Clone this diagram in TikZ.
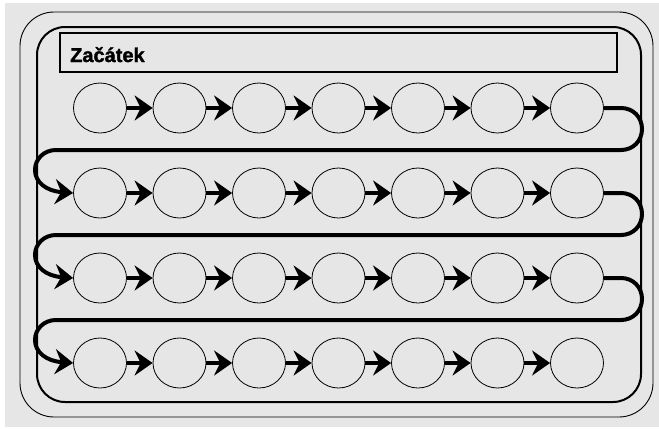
\documentclass[tikz,border=0pt]{standalone}
\usepackage{fontspec}
\setmainfont{Liberation Sans}
\newfontfamily\titlefont[FakeBold=1.6]{Liberation Sans Bold}
\usetikzlibrary{arrows.meta,shapes.geometric}
\definecolor{bg}{HTML}{E6E6E6}
\begin{document}
\begin{tikzpicture}[x=1pt,y=-1pt,
  cell/.style={draw, line width=0.8pt, ellipse, minimum width=53pt, minimum height=50pt, inner sep=0pt},
  arr/.style={line width=3.2pt, -{Stealth[length=18pt,width=25pt,inset=6pt]}},
  turn/.style={line width=4pt, -{Stealth[length=18pt,width=25pt,inset=6pt]}},
  frame/.style={draw, line width=2pt}]
\useasboundingbox (0,0) rectangle (659,429);
\fill[white] (0,0) rectangle (659,429);
\fill[bg] (5,3) rectangle (659,427);
\draw[line width=0.9pt, rounded corners=34pt] (20,12) rectangle (653,417);
\draw[line width=2pt, rounded corners=28pt] (37,27) rectangle (641,402);
\draw[frame] (60,33) rectangle (617,72);
\node[anchor=base west, inner sep=0pt, font=\titlefont\fontsize{20}{21}\selectfont] (title) at (70,62) {Začátek};
\foreach \r/\y in {1/108,2/193,3/278,4/363}{
  \foreach \c in {1,...,7}{
    \node[cell] (c\r\c) at ({100+79.5*(\c-1)},\y) {};
  }
  \foreach \c [evaluate=\c as \n using int(\c+1)] in {1,...,6}{
    \draw[arr] (c\r\c.east) -- (c\r\n.west);
  }
}
\foreach \r/\y [evaluate=\r as \s using int(\r+1)] in {1/108,2/193,3/278}{
  \draw[turn] (c\r7.east) -- (621,\y)
    .. controls (633,\y) and (642,\y+9) .. (642,\y+21)
    .. controls (642,\y+33) and (633,\y+42) .. (621,\y+42)
    -- (56,\y+42)
    .. controls (44,\y+42) and (35,\y+51) .. (35,\y+62)
    .. controls (35,\y+74) and (46,\y+83) .. (c\s1.west);
}
\end{tikzpicture}
\end{document}
